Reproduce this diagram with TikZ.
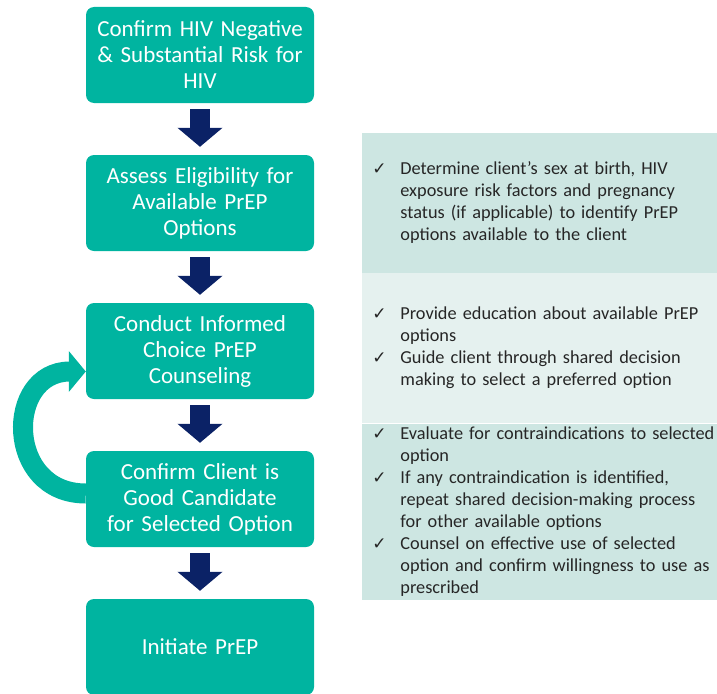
\documentclass[tikz,border=0pt]{standalone}
\usepackage{fontspec}
\setmainfont{Carlito}
\newfontfamily\tickfont{DejaVu Sans}
\usetikzlibrary{positioning, arrows.meta}
\definecolor{prepteal}{HTML}{00B4A0}
\definecolor{prepnavy}{HTML}{0B2266}
\definecolor{notedark}{HTML}{CDE6E2}
\definecolor{notelight}{HTML}{E5F1EF}
\newcommand{\tick}{{\tickfont\fontsize{17}{17}\selectfont ✓}}
\tikzstyle{stepbox} = [rectangle, rounded corners=8pt, minimum width=228pt, minimum height=96pt, text width=220pt, align=center, fill=prepteal, text=white, font=\fontsize{23}{26}\selectfont]
\tikzstyle{note} = [rectangle, minimum width=357pt, text width=337pt, inner xsep=10pt, inner ysep=0pt, align=left, text=black!85, font=\fontsize{18.3}{22}\selectfont]
\tikzstyle{downarrow} = [prepnavy, line width=20pt, -{Triangle[length=19pt, width=44pt]}, shorten <=6pt, shorten >=8pt]
\tikzstyle{backarrow} = [prepteal, line width=20pt, -{Triangle[length=17pt, width=40pt]}]

\begin{document}
\begin{tikzpicture}[x=1pt, y=-1pt, node distance=148pt]
\useasboundingbox (0,0) rectangle (717,693);
\node (confirm) [stepbox] at (200,55) {Confirm HIV Negative\\ \& Substantial Risk for\\ HIV};
\node (assess)  [stepbox, below of=confirm] {Assess Eligibility for\\ Available PrEP\\ Options};
\node (counsel) [stepbox, below of=assess]  {Conduct Informed\\ Choice PrEP\\ Counseling};
\node (check)   [stepbox, below of=counsel] {Confirm Client is\\ Good Candidate\\ for Selected Option};
\node (initiate)[stepbox, below of=check]   {Initiate PrEP};		%runs off the bottom edge
\node (noteA) [note, fill=notedark, minimum height=140pt, right=48pt of assess] {\begin{tabular}{@{}p{28pt}@{}l@{}}
\tick & Determine client’s sex at birth, HIV\\
      & exposure risk factors and pregnancy\\
      & status (if applicable) to identify PrEP\\
      & options available to the client
\end{tabular}};
\node (noteB) [note, fill=notelight, minimum height=150pt, below=0pt of noteA] {\begin{tabular}{@{}p{28pt}@{}l@{}}
\tick & Provide education about available PrEP\\
      & options\\
\tick & Guide client through shared decision\\
      & making to select a preferred option
\end{tabular}};
\node (noteC) [note, fill=notedark, minimum height=175pt, below=0pt of noteB] {\begin{tabular}{@{}p{28pt}@{}l@{}}
\tick & Evaluate for contraindications to selected\\
      & option\\
\tick & If any contraindication is identified,\\
      & repeat shared decision-making process\\
      & for other available options\\
\tick & Counsel on effective use of selected\\
      & option and confirm willingness to use as\\
      & prescribed
\end{tabular}};
\draw [downarrow] (confirm) -- (assess);
\draw [downarrow] (assess) -- (counsel);
\draw [downarrow] (counsel) -- (check);
\draw [downarrow] (check) -- (initiate);
\draw [backarrow] ([yshift=5.5pt]check.west) to [out=180, in=180, looseness=1.7] ([yshift=-20.5pt]counsel.west);
\end{tikzpicture}
\end{document}
